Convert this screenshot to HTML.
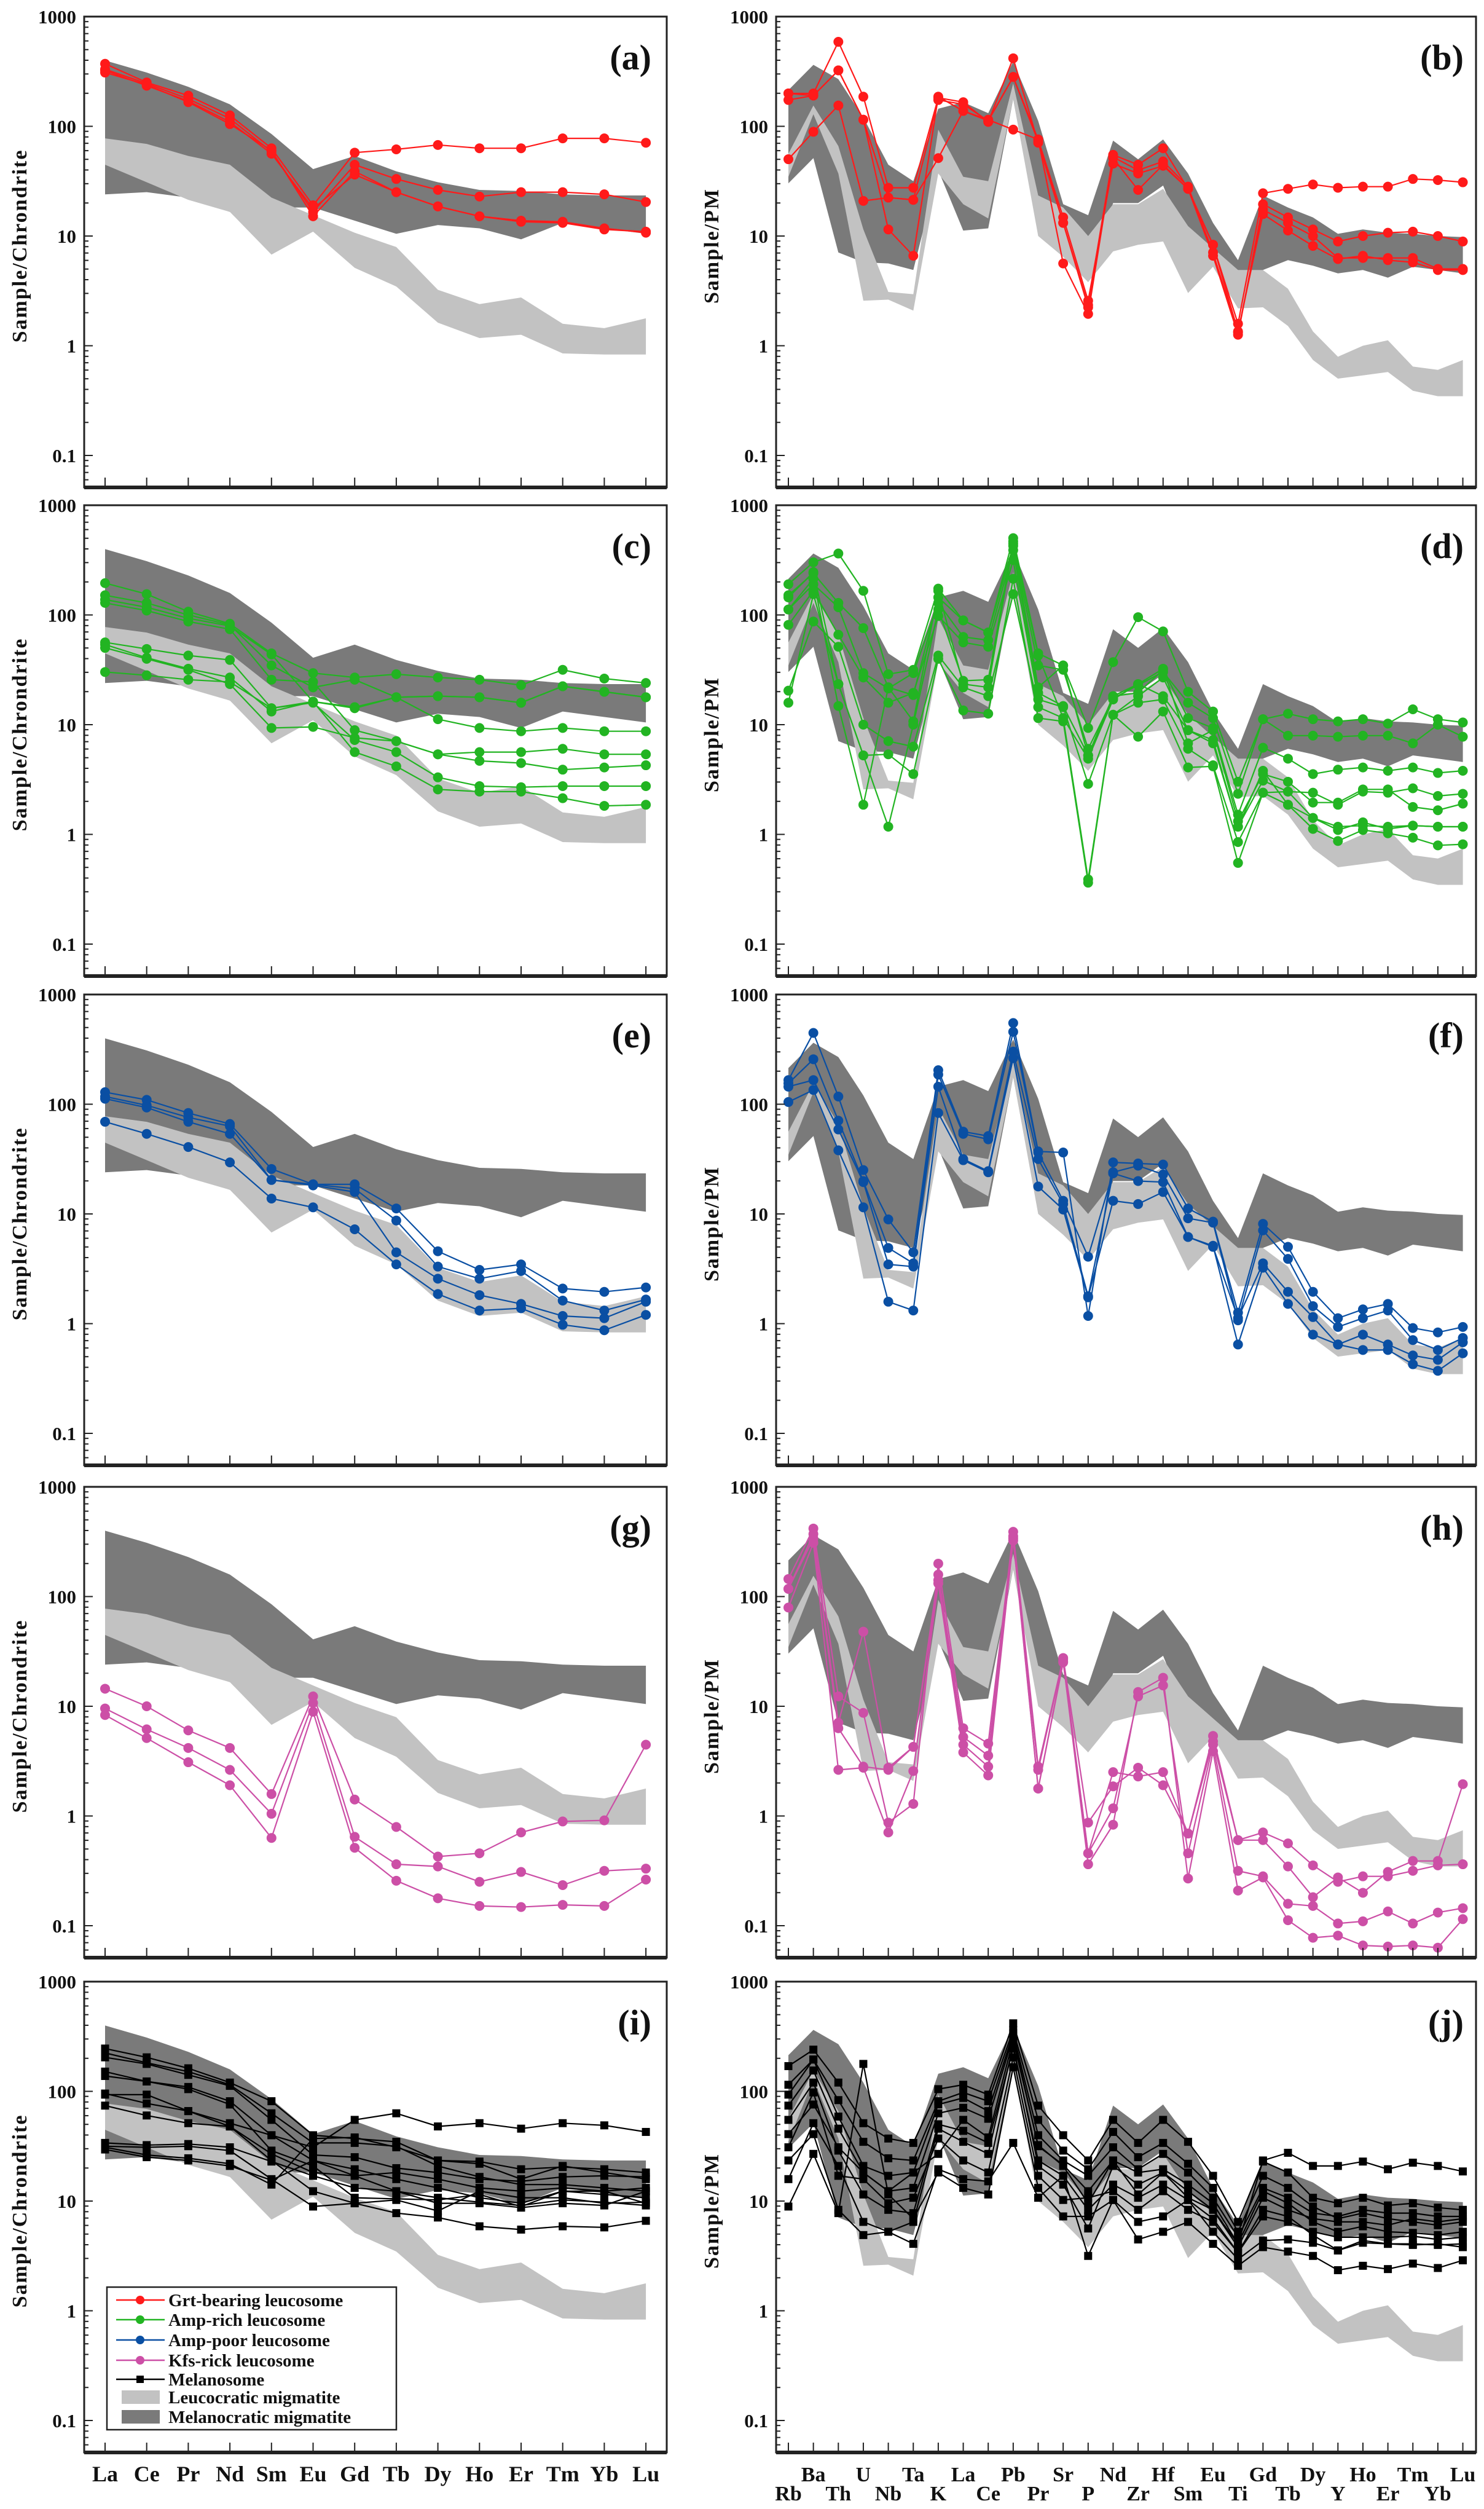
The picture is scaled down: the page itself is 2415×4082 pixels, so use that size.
<!DOCTYPE html>
<html>
<head>
<meta charset="utf-8">
<style>
  html,body{margin:0;padding:0;background:#fff;}
  svg{display:block;}
  text{font-family:"Liberation Serif",serif;font-weight:bold;fill:#111;}
</style>
</head>
<body>
<svg id="fig" width="2415" height="4082" viewBox="0 0 2415 4082" xmlns="http://www.w3.org/2000/svg"></svg>
<script>
// ===== Categories =====
const reeLabels = ["La","Ce","Pr","Nd","Sm","Eu","Gd","Tb","Dy","Ho","Er","Tm","Yb","Lu"];
const pmLabels = ["Rb","Ba","Th","U","Nb","Ta","K","La","Ce","Pb","Pr","Sr","P","Nd","Zr","Hf","Sm","Eu","Ti","Gd","Tb","Dy","Y","Ho","Er","Tm","Yb","Lu"];
const yTickValues = [1000,100,10,1,0.1];
const yTickLabels = ["1000","100","10","1","0.1"];

// ===== Reference bands (log10 of normalized value) =====
const reeDarkHi  = [2.60,2.49,2.36,2.20,1.93,1.61,1.73,1.59,1.49,1.42,1.41,1.38,1.37,1.37];
const reeDarkLo  = [1.38,1.40,1.35,1.22,1.26,1.26,1.14,1.02,1.10,1.07,0.97,1.12,1.07,1.02];
const reeLightHi = [1.89,1.84,1.73,1.65,1.35,1.19,1.03,0.90,0.51,0.38,0.44,0.20,0.16,0.25];
const reeLightLo = [1.65,1.49,1.33,1.22,0.83,1.04,0.71,0.54,0.21,0.07,0.10,-0.07,-0.08,-0.08];

const pmDarkHi  = [2.33,2.56,2.43,2.08,1.65,1.50,2.16,2.22,2.12,2.59,2.05,1.29,1.19,1.87,1.70,1.88,1.57,1.12,0.78,1.37,1.26,1.17,1.02,1.06,1.03,1.02,1.00,0.99];
const pmDarkLo  = [1.48,1.71,0.85,0.76,0.75,0.69,1.60,1.05,1.07,2.25,1.02,0.89,0.58,1.30,1.30,1.46,0.90,0.89,0.48,0.69,0.78,0.73,0.66,0.69,0.62,0.72,0.69,0.66];
const pmLightHi = [1.75,2.19,1.82,1.06,0.49,0.47,1.97,1.54,1.50,2.39,1.37,1.26,1.00,1.29,1.29,1.43,1.09,0.89,0.69,0.69,0.52,0.13,-0.10,0.00,0.05,-0.19,-0.22,-0.13];
const pmLightLo = [1.54,2.11,1.57,0.41,0.42,0.32,1.57,1.29,1.16,2.25,1.00,0.81,0.58,0.86,0.92,0.95,0.48,0.72,0.34,0.35,0.18,-0.13,-0.30,-0.27,-0.24,-0.41,-0.46,-0.46];

// ===== Panel (a) Grt-bearing leucosome, REE =====
const aS1 = [2.57,2.40,2.28,2.10,1.80,1.28,1.76,1.79,1.83,1.80,1.80,1.89,1.89,1.85];
const aS2 = [2.52,2.39,2.25,2.07,1.77,1.22,1.65,1.52,1.42,1.36,1.40,1.40,1.38,1.31];
const aS3 = [2.49,2.38,2.22,2.02,1.78,1.18,1.59,1.40,1.27,1.18,1.13,1.12,1.06,1.04];
const aS4 = [2.51,2.37,2.23,2.04,1.75,1.25,1.56,1.40,1.27,1.18,1.14,1.13,1.07,1.03];
// ===== Panel (b) Grt-bearing, PM =====
const bS1 = [2.30,2.30,2.77,2.27,1.44,1.44,2.26,2.22,2.04,2.62,1.85,1.12,0.37,1.74,1.65,1.80,1.43,0.92,0.20,1.39,1.43,1.47,1.44,1.45,1.45,1.52,1.51,1.49];
const bS2 = [2.24,2.28,2.51,2.06,1.06,0.82,2.27,2.14,2.05,2.45,1.88,0.75,0.29,1.71,1.42,1.65,1.43,0.82,0.10,1.29,1.17,1.06,0.95,1.00,1.03,1.04,1.00,0.95];
const bS3 = [1.70,1.95,2.19,1.32,1.35,1.33,1.71,2.14,2.06,1.97,1.88,1.17,0.41,1.66,1.57,1.64,1.43,0.92,0.13,1.20,1.05,0.91,0.79,0.82,0.78,0.76,0.69,0.69];
const bS4 = [2.30,2.28,2.51,2.06,1.35,1.33,2.24,2.20,2.05,2.45,1.86,1.12,0.35,1.72,1.60,1.68,1.45,0.85,0.12,1.24,1.12,1.00,0.80,0.80,0.80,0.80,0.70,0.70];
// ===== Panel (c) Amp-rich, REE =====
const cS1 = [2.29,2.19,2.03,1.92,1.65,1.47,1.43,1.46,1.43,1.41,1.36,1.50,1.42,1.38];
const cS2 = [2.18,2.11,2.00,1.91,1.54,1.34,1.41,1.25,1.26,1.25,1.20,1.35,1.30,1.25];
const cS3 = [2.14,2.07,1.97,1.90,1.64,1.21,1.16,1.25,1.05,0.97,0.94,0.97,0.94,0.94];
const cS4 = [2.11,2.04,1.94,1.87,1.41,1.39,0.95,0.85,0.73,0.75,0.75,0.78,0.73,0.73];
const cS5 = [1.75,1.69,1.63,1.59,1.15,1.20,0.86,0.75,0.52,0.44,0.43,0.44,0.44,0.44];
const cS6 = [1.73,1.61,1.51,1.43,1.12,1.21,0.75,0.62,0.41,0.39,0.39,0.33,0.26,0.27];
const cS7 = [1.70,1.60,1.50,1.37,0.97,0.98,0.88,0.85,0.73,0.67,0.65,0.59,0.61,0.63];
const cS8 = [1.48,1.45,1.41,1.39,1.15,1.21,1.15,1.25,1.26,1.25,1.20,1.35,1.30,1.25];
// ===== Panel (d) Amp-rich, PM =====
const dS1 = [2.28,2.48,2.56,2.22,1.46,1.50,2.24,1.95,1.84,2.70,1.65,1.54,0.97,1.57,1.98,1.85,1.30,1.12,0.48,1.05,1.10,1.05,1.03,1.05,1.01,1.14,1.05,1.02];
const dS2 = [2.18,2.38,2.11,1.88,1.34,1.27,2.16,1.95,1.84,2.63,1.54,1.50,0.78,1.24,1.36,1.48,1.20,1.06,0.37,1.05,0.90,0.90,0.89,0.90,0.90,0.83,1.00,0.89];
const dS3 = [2.05,2.28,2.07,1.47,1.33,1.47,2.11,1.80,1.77,2.59,1.29,1.17,0.72,1.26,1.29,1.50,1.06,0.97,0.18,0.79,0.69,0.55,0.59,0.61,0.58,0.61,0.56,0.58];
const dS4 = [1.91,2.22,1.82,1.43,1.20,1.29,1.99,1.75,1.71,2.50,1.23,1.16,0.46,1.09,1.26,1.43,0.95,0.86,0.07,0.49,0.39,0.38,0.27,0.39,0.38,0.42,0.35,0.37];
const dS5 = [1.31,1.94,1.71,1.00,0.85,0.80,1.63,1.34,1.26,2.19,1.16,1.06,-0.41,1.09,1.20,1.23,0.78,0.63,-0.07,0.38,0.39,0.15,0.07,0.08,0.07,0.08,0.07,0.07];
const dS6 = [1.20,2.19,1.37,0.72,0.73,0.55,1.60,1.13,1.10,2.33,1.06,1.03,-0.44,1.09,0.89,1.12,0.61,0.62,-0.26,0.38,0.27,0.05,-0.06,0.04,0.01,-0.03,-0.10,-0.09];
const dS7 = [2.05,2.33,1.17,0.27,1.34,1.03,2.22,1.37,1.34,2.65,1.34,1.54,0.72,1.26,1.37,1.51,0.83,0.95,0.12,0.55,0.48,0.29,0.29,0.41,0.41,0.25,0.22,0.28];
const dS8 = [2.16,2.39,1.37,0.72,0.07,1.00,2.05,1.40,1.41,2.67,1.63,1.06,0.69,1.23,1.37,1.26,0.95,0.83,0.07,0.58,0.27,0.15,0.04,0.11,0.05,0.08,0.07,0.07];
// ===== Panel (e) Amp-poor, REE =====
const eS1 = [2.11,2.04,1.92,1.82,1.41,1.27,1.27,1.05,0.66,0.49,0.54,0.32,0.29,0.33];
const eS2 = [2.07,1.99,1.88,1.80,1.31,1.27,1.23,0.94,0.52,0.41,0.48,0.21,0.12,0.22];
const eS3 = [2.05,1.97,1.84,1.73,1.31,1.26,1.20,0.65,0.41,0.26,0.18,0.07,0.05,0.20];
const eS4 = [1.84,1.73,1.61,1.47,1.14,1.06,0.86,0.54,0.27,0.12,0.14,-0.01,-0.06,0.08];
// ===== Panel (f) Amp-poor, PM =====
const fS1 = [2.22,2.65,2.07,1.40,0.95,0.65,2.31,1.75,1.71,2.74,1.57,1.56,0.07,1.47,1.46,1.45,1.05,0.93,0.10,0.91,0.70,0.29,0.05,0.13,0.18,-0.04,-0.08,-0.03];
const fS2 = [2.19,2.41,1.85,1.30,0.69,0.55,2.27,1.73,1.68,2.66,1.56,1.12,0.61,1.38,1.44,1.36,0.96,0.92,0.03,0.85,0.59,0.16,-0.03,0.05,0.12,-0.15,-0.24,-0.13];
const fS3 = [2.16,2.22,1.77,1.29,0.54,0.52,2.16,1.50,1.39,2.48,1.50,1.09,0.25,1.37,1.30,1.29,0.79,0.70,0.05,0.55,0.29,0.06,-0.19,-0.10,-0.19,-0.29,-0.33,-0.17];
const fS4 = [2.02,2.13,1.58,1.06,0.20,0.12,1.92,1.49,1.38,2.42,1.25,1.04,0.24,1.12,1.09,1.20,0.79,0.71,-0.19,0.51,0.18,-0.10,-0.19,-0.24,-0.24,-0.37,-0.43,-0.27];
// ===== Panel (g) Kfs-rich, REE =====
const gS1 = [1.16,1.00,0.78,0.62,0.20,1.09,0.15,-0.10,-0.37,-0.34,-0.15,-0.05,-0.04,0.65];
const gS2 = [0.98,0.79,0.62,0.42,0.02,1.03,-0.19,-0.44,-0.46,-0.60,-0.51,-0.63,-0.50,-0.48];
const gS3 = [0.92,0.71,0.49,0.28,-0.20,0.95,-0.29,-0.59,-0.75,-0.82,-0.83,-0.81,-0.82,-0.58];
// ===== Panel (h) Kfs-rich, PM =====
const hS1 = [2.16,2.62,1.09,0.94,-0.06,0.11,2.30,0.80,0.66,2.59,0.45,1.44,-0.06,0.27,0.44,0.28,-0.16,0.73,-0.22,-0.22,-0.46,-0.74,-0.56,-0.70,-0.51,-0.41,-0.41,0.29];
const hS2 = [2.07,2.53,0.80,0.45,0.42,0.63,2.15,0.65,0.45,2.51,0.42,1.43,-0.34,0.07,1.09,1.19,-0.34,0.65,-0.50,-0.55,-0.80,-0.82,-0.98,-0.96,-0.87,-0.98,-0.88,-0.84];
const hS3 = [1.90,2.49,0.42,0.44,-0.15,0.41,2.12,0.58,0.37,2.53,0.25,1.41,-0.44,-0.08,1.13,1.26,-0.57,0.59,-0.68,-0.56,-0.95,-1.11,-1.09,-1.18,-1.19,-1.18,-1.20,-0.94];
const hS4 = [2.07,2.57,0.85,1.68,0.44,0.63,2.20,0.72,0.55,2.55,0.25,1.40,-0.34,0.40,0.36,0.40,-0.16,0.68,-0.22,-0.15,-0.25,-0.45,-0.60,-0.55,-0.55,-0.50,-0.45,-0.44];
// ===== Panel (i) Melanosome, REE =====
const iS1  = [1.98,1.89,1.82,1.71,1.60,1.49,1.74,1.80,1.68,1.71,1.66,1.71,1.69,1.63];
const iS2  = [2.39,2.31,2.21,2.08,1.91,1.60,1.57,1.54,1.37,1.36,1.29,1.31,1.29,1.26];
const iS3  = [2.35,2.26,2.18,2.06,1.80,1.53,1.53,1.50,1.32,1.22,1.15,1.15,1.12,1.09];
const iS4  = [2.31,2.25,2.15,2.05,1.74,1.42,1.40,1.30,1.26,1.20,1.18,1.22,1.23,1.22];
const iS5  = [2.18,2.09,2.04,1.91,1.60,1.37,1.23,1.09,1.03,0.99,0.96,1.01,0.99,0.96];
const iS6  = [2.14,2.09,2.02,1.88,1.46,1.32,1.03,1.02,1.01,1.06,0.95,1.09,1.06,1.03];
const iS7  = [1.97,1.97,1.82,1.68,1.43,1.26,1.23,1.26,1.20,1.12,1.09,1.12,1.09,0.98];
const iS8  = [1.87,1.78,1.71,1.68,1.37,1.09,0.98,0.89,0.85,0.77,0.74,0.77,0.76,0.82];
const iS9  = [1.53,1.51,1.52,1.49,1.36,1.23,1.12,1.09,0.98,0.98,0.94,0.98,0.96,1.09];
const iS10 = [1.50,1.49,1.50,1.46,1.20,0.95,0.98,1.01,0.91,1.09,1.03,1.03,0.98,0.99];
const iS11 = [1.49,1.42,1.39,1.34,1.15,1.57,1.58,1.49,1.37,1.34,1.20,1.32,1.26,1.20];
const iS12 = [1.47,1.40,1.37,1.32,1.19,1.37,1.29,1.20,1.12,1.03,0.98,1.09,1.09,1.12];
// ===== Panel (j) Melanosome, PM =====
const jS1  = [1.61,1.88,1.49,1.26,1.09,1.26,1.43,1.74,1.58,2.47,1.51,1.32,0.98,1.37,1.06,1.26,1.03,0.92,0.61,1.37,1.44,1.32,1.32,1.36,1.29,1.35,1.32,1.27];
const jS2  = [2.23,2.38,2.08,1.71,1.57,1.53,2.02,2.06,1.97,2.62,1.87,1.60,1.37,1.74,1.53,1.74,1.54,1.23,0.81,1.36,1.26,1.03,0.98,1.03,0.96,0.98,0.94,0.92];
const jS3  = [2.06,2.29,1.92,1.54,1.39,1.37,1.91,1.99,1.91,2.56,1.74,1.46,1.29,1.63,1.40,1.53,1.34,1.12,0.72,1.23,1.12,0.95,0.84,0.89,0.84,0.81,0.78,0.81];
const jS4  = [1.87,2.19,1.66,1.26,1.09,1.12,1.80,1.85,1.75,2.50,1.50,1.33,1.09,1.37,1.26,1.29,1.15,0.98,0.61,1.09,0.98,0.81,0.72,0.77,0.72,0.71,0.69,0.72];
const jS5  = [1.74,2.08,1.46,1.06,0.92,0.89,1.70,1.64,1.53,2.39,1.37,1.23,0.92,1.15,1.03,1.15,1.01,0.84,0.53,0.92,0.86,0.69,0.55,0.64,0.61,0.60,0.61,0.58];
const jS6  = [1.37,1.61,0.92,0.69,0.72,0.61,1.29,1.20,1.18,1.53,1.03,1.23,0.50,1.01,0.65,0.72,0.81,0.61,0.41,0.58,0.54,0.50,0.37,0.41,0.38,0.43,0.39,0.46];
const jS7  = [0.95,1.43,0.89,2.25,1.06,0.84,1.26,1.12,1.06,2.22,1.12,0.86,0.86,1.01,0.81,0.86,1.01,0.72,0.47,0.64,0.65,0.62,0.55,0.62,0.61,0.61,0.60,0.61];
const jS8  = [1.20,1.71,1.32,0.81,0.72,0.81,1.66,1.54,1.43,2.42,1.32,1.15,0.75,1.32,1.15,1.26,1.09,0.92,0.58,1.03,0.92,0.84,0.81,0.81,0.78,0.84,0.81,0.84];
const jS9  = [1.97,2.29,1.77,1.32,1.23,1.26,1.88,1.94,1.82,2.53,1.60,1.37,1.23,1.49,1.29,1.43,1.26,1.03,0.67,1.12,1.03,0.89,0.86,0.92,0.89,0.89,0.86,0.86];
const jS10 = [1.49,1.99,1.23,1.20,0.98,1.03,1.57,1.37,1.26,2.31,1.23,1.01,1.03,1.09,0.92,1.09,0.92,0.81,0.53,0.86,0.81,0.72,0.67,0.67,0.67,0.68,0.65,0.67];

// ===== Legend entries =====
const legendLabels = ["Grt-bearing leucosome","Amp-rich leucosome","Amp-poor leucosome","Kfs-rick leucosome","Melanosome","Leucocratic migmatite","Melanocratic migmatite"];
const legendColors = ["#ff1a1a","#22b422","#0a4fa3","#cc4fa6","#000000","#c2c2c2","#7a7a7a"];

// ===== Layout (pixel geometry, not data) =====
const NS = "http://www.w3.org/2000/svg";
const svg = document.getElementById("fig");
const rowTops = [27, 822, 1618, 2419, 3224];
const plotH = 766, decade = 178.5;
const sideGeom = {
  L: {x0:137, x1:1085, first:171, step:67.7, labels:reeLabels, title:"Sample/Chrondrite", titleX:32, tickLabelX:124, panelLabelX:1060},
  R: {x0:1263, x1:2402, first:1283, step:40.65, labels:pmLabels, title:"Sample/PM", titleX:1158, tickLabelX:1250, panelLabelX:2382}
};
const panelDefs = [
  {id:"a", side:"L", row:0, color:"#ff1a1a", marker:"circle", series:[aS1,aS2,aS3,aS4]},
  {id:"b", side:"R", row:0, color:"#ff1a1a", marker:"circle", series:[bS1,bS2,bS3,bS4]},
  {id:"c", side:"L", row:1, color:"#22b422", marker:"circle", series:[cS1,cS2,cS3,cS4,cS5,cS6,cS7,cS8]},
  {id:"d", side:"R", row:1, color:"#22b422", marker:"circle", series:[dS1,dS2,dS3,dS4,dS5,dS6,dS7,dS8]},
  {id:"e", side:"L", row:2, color:"#0a4fa3", marker:"circle", series:[eS1,eS2,eS3,eS4]},
  {id:"f", side:"R", row:2, color:"#0a4fa3", marker:"circle", series:[fS1,fS2,fS3,fS4]},
  {id:"g", side:"L", row:3, color:"#cc4fa6", marker:"circle", series:[gS1,gS2,gS3]},
  {id:"h", side:"R", row:3, color:"#cc4fa6", marker:"circle", series:[hS1,hS2,hS3,hS4]},
  {id:"i", side:"L", row:4, color:"#000000", marker:"square", series:[iS1,iS2,iS3,iS4,iS5,iS6,iS7,iS8,iS9,iS10,iS11,iS12]},
  {id:"j", side:"R", row:4, color:"#000000", marker:"square", series:[jS1,jS2,jS3,jS4,jS5,jS6,jS7,jS8,jS9,jS10]}
];

function mk(tag, attrs, parent){
  const el = document.createElementNS(NS, tag);
  for (const k in attrs) el.setAttribute(k, attrs[k]);
  (parent || svg).appendChild(el);
  return el;
}
function xScale(g, i){ return g.first + i*g.step; }
function yScale(top, logv){ return top + (3 - logv)*decade; }

function bandPath(g, top, hi, lo){
  let d = "";
  hi.forEach((v,i)=>{ d += (i? "L":"M") + xScale(g,i).toFixed(1) + "," + yScale(top,v).toFixed(1); });
  for (let i=lo.length-1;i>=0;i--) d += "L" + xScale(g,i).toFixed(1) + "," + yScale(top,lo[i]).toFixed(1);
  return d + "Z";
}

panelDefs.forEach(p=>{
  const g = sideGeom[p.side];
  const top = rowTops[p.row];
  const bottom = top + plotH;
  const grp = mk("g", {});
  
  
  const clipId = "clip-" + p.id;
  const cp = mk("clipPath", {id:clipId}, grp);
  mk("rect", {x:g.x0, y:top, width:g.x1-g.x0, height:plotH}, cp);
  const plot = mk("g", {"clip-path":"url(#"+clipId+")"}, grp);

  const isL = p.side === "L";
  const dark = mk("path", {d:bandPath(g, top, isL?reeDarkHi:pmDarkHi, isL?reeDarkLo:pmDarkLo), fill:"#7a7a7a"}, plot);
  
  
  const light = mk("path", {d:bandPath(g, top, isL?reeLightHi:pmLightHi, isL?reeLightLo:pmLightLo), fill:"#c2c2c2"}, plot);
  
  

  p.series.forEach((s, si)=>{
    const pts = s.map((v,i)=> xScale(g,i).toFixed(1)+","+yScale(top,v).toFixed(1)).join(" ");
    const line = mk("polyline", {points:pts, fill:"none", stroke:p.color, "stroke-width":2.2}, plot);
    
    
  });
  p.series.forEach((s, si)=>{
    s.forEach((v,i)=>{
      const cx = xScale(g,i), cy = yScale(top,v);
      let m;
      if (p.marker === "circle") m = mk("circle", {cx:cx, cy:cy, r:8, fill:p.color}, plot);
      else m = mk("rect", {x:cx-6.5, y:cy-6.5, width:13, height:13, fill:p.color}, plot);
      
      
    });
  });

  // frame
  const frame = mk("rect", {x:g.x0, y:top, width:g.x1-g.x0, height:plotH, fill:"none", stroke:"#222", "stroke-width":3}, grp);
  
  
  const baseLine = mk("line", {x1:g.x0, y1:bottom, x2:g.x1, y2:bottom, stroke:"#222", "stroke-width":6}, grp);
  
  

  // y ticks
  for (let dec=-2; dec<3; dec++){
    for (let m=1; m<10; m++){
      const lv = dec + Math.log10(m);
      const yy = yScale(top, lv);
      if (yy > bottom-2 || yy < top) continue;
      const len = m===1 ? 14 : 7;
      mk("line", {x1:g.x0, y1:yy, x2:g.x0+len, y2:yy, stroke:"#222", "stroke-width":2}, grp);
    }
  }
  yTickValues.forEach((v,k)=>{
    const t = mk("text", {x:g.tickLabelX, y:yScale(top, Math.log10(v))+11, "text-anchor":"end", "font-size":31}, grp);
    t.textContent = yTickLabels[k];
    
    
  });
  // x ticks
  g.labels.forEach((lab,i)=>{
    mk("line", {x1:xScale(g,i), y1:bottom, x2:xScale(g,i), y2:bottom-16, stroke:"#222", "stroke-width":2}, grp);
  });
  // y title
  const cyT = top + plotH/2 - 10;
  const yt = mk("text", {x:g.titleX, y:cyT, "text-anchor":"middle", "font-size":34, "letter-spacing":2, transform:"rotate(-90 "+g.titleX+" "+cyT+")", dy:"11"}, grp);
  yt.textContent = g.title;
  
  
  // panel label
  const pl = mk("text", {x:g.panelLabelX, y:top+86, "text-anchor":"end", "font-size":58}, grp);
  pl.textContent = "(" + p.id + ")";
  
  

  // x labels for bottom row
  if (p.row === 4){
    g.labels.forEach((lab,i)=>{
      let yb = 4037;
      if (!isL) yb = (i % 2 === 1) ? 4037 : 4068;
      const t = mk("text", {x:xScale(g,i), y:yb, "text-anchor":"middle", "font-size":isL?36:34}, grp);
      t.textContent = lab;
      
      
    });
  }
});

// ===== Legend in panel (i) =====
const leg = mk("g", {});


mk("rect", {x:174, y:3721, width:471, height:232, fill:"#fff", stroke:"#222", "stroke-width":2.5}, leg);
const legY = [3742, 3774, 3807, 3840, 3871, 3900, 3932];
legendLabels.forEach((lab,k)=>{
  const yy = legY[k];
  const entry = mk("g", {}, leg);
  
  
  if (k < 5){
    mk("line", {x1:189, y1:yy, x2:268, y2:yy, stroke:legendColors[k], "stroke-width":2.5}, entry);
    if (k < 4) mk("circle", {cx:228, cy:yy, r:7, fill:legendColors[k]}, entry);
    else mk("rect", {x:222, y:yy-6, width:12, height:12, fill:"#000"}, entry);
  } else {
    mk("rect", {x:198, y:yy-11, width:62, height:22, fill:legendColors[k]}, entry);
  }
  const t = mk("text", {x:274, y:yy+10, "font-size":29}, entry);
  t.textContent = lab;
});
</script>
</body>
</html>
